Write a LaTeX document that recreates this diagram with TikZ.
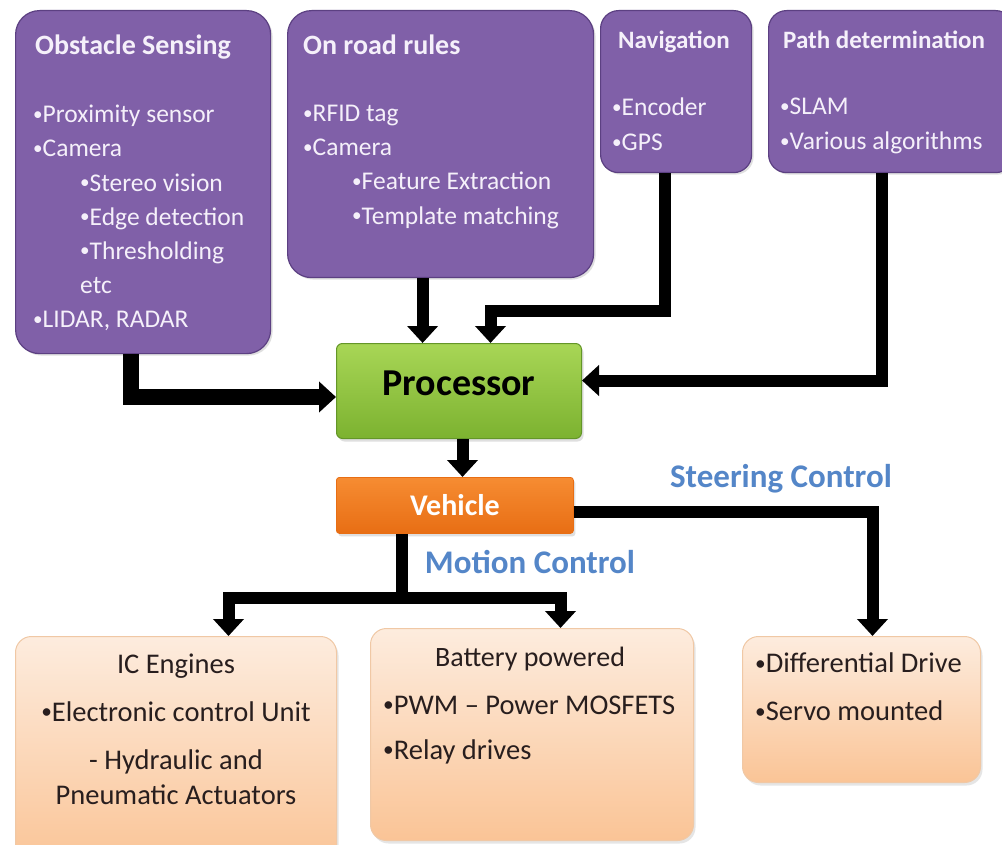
\documentclass[tikz,border=0pt]{standalone}
\usepackage{fontspec}
\setmainfont{Carlito}
\usetikzlibrary{arrows.meta,shadows}
\newcommand{\bu}{\raisebox{0.1em}{\scalebox{0.75}{•}}}
\definecolor{purp}{RGB}{128,96,168}
\definecolor{purpd}{RGB}{92,64,130}
\definecolor{ptext}{RGB}{245,240,250}
\definecolor{peachT}{RGB}{253,236,222}
\definecolor{peachB}{RGB}{250,196,150}
\definecolor{peachD}{RGB}{240,200,165}
\definecolor{grnT}{RGB}{168,214,86}
\definecolor{grnB}{RGB}{124,178,48}
\definecolor{grnD}{RGB}{100,150,40}
\definecolor{orgT}{RGB}{246,140,50}
\definecolor{orgB}{RGB}{232,110,20}
\definecolor{lblue}{RGB}{84,134,200}
\definecolor{dtext}{RGB}{40,30,30}
\tikzset{
  pbox/.style={draw=purpd, line width=1.2pt, fill=purp, rounded corners=24pt, anchor=north west, inner sep=0pt,
    drop shadow={opacity=0.25, shadow xshift=2pt, shadow yshift=-2pt}},
  bbox/.style={draw=peachD, line width=1pt, top color=peachT, bottom color=peachB, rounded corners=16pt, anchor=north west, inner sep=0pt,
    drop shadow={opacity=0.2, shadow xshift=2pt, shadow yshift=-3pt}},
  ttl/.style={text=ptext, font=\bfseries, anchor=north west, inner sep=0pt},
  bdy/.style={text=ptext, anchor=north west, inner sep=0pt, align=left},
  btx/.style={text=dtext, inner sep=0pt},
  lbl/.style={text=lblue, font=\bfseries\fontsize{33}{36}\selectfont, inner sep=0pt},
  ln/.style={line width=12pt, line join=miter, draw=black},
  arr/.style={ln, -{Triangle[width=30pt,length=17pt]}},
}
\begin{document}
\begin{tikzpicture}[x=1pt,y=-1pt]
\useasboundingbox (0,0) rectangle (1002,845);
\fill[white] (0,0) rectangle (1002,845);

% top purple boxes
\node[pbox, minimum width=255, minimum height=343] (obs) at (15,10) {};
\node[pbox, minimum width=306, minimum height=267] (road) at (287,10) {};
\node[pbox, minimum width=151, minimum height=162, rounded corners=18pt] (nav) at (600,10) {};
\node[pbox, minimum width=245, minimum height=162, rounded corners=18pt] (path) at (768,10) {};

\node[ttl, font=\bfseries\fontsize{28}{30}\selectfont] (obst) at (35,35) {Obstacle Sensing};
\node[bdy, font=\fontsize{25.5}{34.2}\selectfont] (obsb) at (33,105) {%
\bu Proximity sensor\\
\bu Camera\\
\hspace*{47pt}\bu Stereo vision\\
\hspace*{47pt}\bu Edge detection\\
\hspace*{47pt}\bu Thresholding\\
\hspace*{47pt}etc\\
\bu LIDAR, RADAR};

\node[ttl, font=\bfseries\fontsize{28}{30}\selectfont] (roadt) at (303,35) {On road rules};
\node[bdy, font=\fontsize{25.5}{34.2}\selectfont] (roadb) at (303,105) {%
\bu RFID tag\\
\bu Camera\\
\hspace*{49pt}\bu Feature Extraction\\
\hspace*{49pt}\bu Template matching};

\node[ttl, font=\bfseries\fontsize{25}{28}\selectfont] (navt) at (618,31) {Navigation};
\node[bdy, font=\fontsize{25.5}{35}\selectfont] (navb) at (612,98) {\bu Encoder\\\bu GPS};

\node[ttl, font=\bfseries\fontsize{25}{28}\selectfont] (patht) at (783,31) {Path determination};
\node[bdy, font=\fontsize{25.5}{35}\selectfont] (pathb) at (780,98) {\bu SLAM\\\bu Various algorithms};

% processor and vehicle
\node[draw=grnD, line width=1pt, top color=grnT, bottom color=grnB, rounded corners=6pt, anchor=north west,
  minimum width=245, minimum height=95, inner sep=0pt, font=\bfseries\fontsize{38}{40}\selectfont, text=black,
  drop shadow={opacity=0.25, shadow xshift=2pt, shadow yshift=-3pt}] (proc) at (336,343) {\raisebox{15pt}{Processor}};
\node[draw=orgB, line width=0.8pt, top color=orgT, bottom color=orgB, rounded corners=3pt, anchor=north west,
  minimum width=237, minimum height=56, inner sep=0pt, font=\bfseries\fontsize{30}{32}\selectfont, text=white,
  drop shadow={opacity=0.25, shadow xshift=2pt, shadow yshift=-3pt}] (veh) at (336,477) {\raisebox{-2pt}{Vehicle}};

% bottom boxes
\node[bbox, minimum width=321, minimum height=230] (ic) at (15,636) {};
\node[bbox, minimum width=323, minimum height=212] (bat) at (370,628) {};
\node[bbox, minimum width=238, minimum height=146] (drv) at (742,636) {};

\node[btx, anchor=north, align=center, font=\fontsize{28.5}{35}\selectfont] (ict) at (176,654) {%
IC Engines\\[13pt]
\bu Electronic control Unit\\[13pt]
- Hydraulic and\\
Pneumatic Actuators};
\node[btx, anchor=north, font=\fontsize{28}{30}\selectfont] (batt) at (530,647) {Battery powered};
\node[btx, anchor=north west, align=left, font=\fontsize{28.5}{45}\selectfont] (batb) at (383,696) {%
\bu PWM – Power MOSFETS\\
\bu Relay drives};
\node[btx, anchor=north west, align=left, font=\fontsize{28.5}{48}\selectfont] (drvb) at (755,653) {%
\bu Differential Drive\\
\bu Servo mounted};

% labels
\node[lbl] (steer) at (781,479) {Steering Control};
\node[lbl] (motion) at (530,562) {Motion Control};

% connectors
\draw[arr, line width=16pt] ([xshift=-12pt]obs.south) |- ([yshift=-6pt]proc.west);
\draw[arr] ([xshift=-18pt]road.south) -- ([xshift=-18pt]road.south |- proc.north);
\draw[arr] ([xshift=-11pt]nav.south) -- ++(0,138) -| ([xshift=31.5pt]proc.north);
\draw[arr] ([xshift=-9pt]path.south) |- ([yshift=10.5pt]proc.east);
\draw[arr] ([xshift=3.5pt]proc.south) -- ([xshift=3.5pt]proc.south |- veh.north);
\draw[arr] ([yshift=-7pt]veh.east) -| ([xshift=11pt]drv.north);
\draw[ln] ([xshift=-52.5pt]veh.south) -- ++(0,70) coordinate (mc);
\draw[arr] ([yshift=6pt]mc) -| ([xshift=52.5pt]ic.north);
\draw[arr] ([yshift=6pt]mc) -| ([xshift=28.5pt]bat.north);
\end{tikzpicture}
\end{document}
